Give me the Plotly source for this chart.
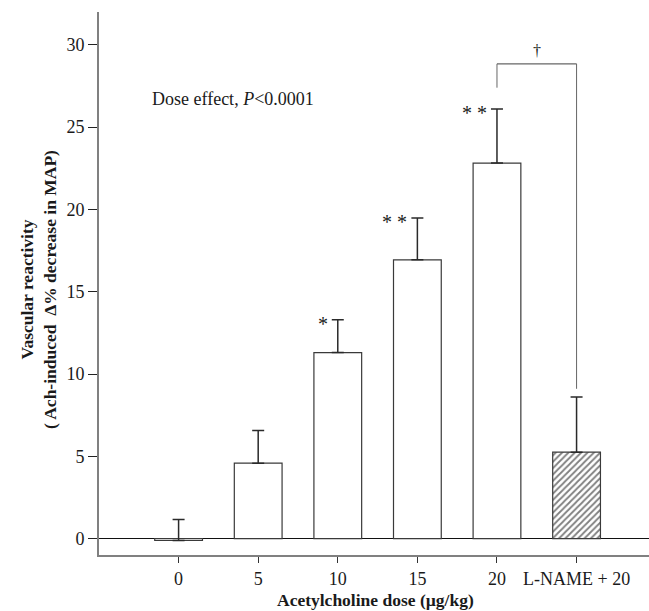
import plotly.graph_objects as go

# Acetylcholine dose groups and measured responses (mean and SEM)
categories = ["0", "5", "10", "15", "20", "L-NAME + 20"]
means = [-0.12, 4.58, 11.3, 16.94, 22.82, 5.25]
sems = [1.28, 1.99, 1.99, 2.54, 3.28, 3.35]
significance = ["", "", "*", "* *", "* *", ""]
patterns = ["", "", "", "", "", "/"]

SERIF = "Liberation Serif, Times New Roman, serif"
INK = "#1a1a1a"

fig = go.Figure()
fig.add_trace(go.Bar(
    x=categories,
    y=means,
    width=0.6,
    marker=dict(
        color="white",
        line=dict(color="#3a3a3a", width=1.2),
        pattern=dict(shape=patterns, fgcolor="#000000", bgcolor="white",
                     size=4.5, solidity=0.4),
    ),
    error_y=dict(type="data", symmetric=False, array=sems,
                 arrayminus=[0] * len(sems),
                 color="#2a2a2a", thickness=1.5, width=6),
    showlegend=False,
    hoverinfo="skip",
))

annotations = []
# significance stars placed to the left of each error-bar cap
# (category axes take serial numbers for annotation positions)
for idx, (m, s, sig) in enumerate(zip(means, sems, significance)):
    if sig:
        annotations.append(dict(
            x=idx, y=m + s, text=sig, showarrow=False,
            xanchor="right", yanchor="middle", xshift=-8, yshift=-4,
            font=dict(family=SERIF, size=20, color=INK),
        ))

# L-NAME comparison bracket between the 20 µg/kg and L-NAME groups
i20 = categories.index("20")
iln = categories.index("L-NAME + 20")
bracket_y = 28.85
fig.add_shape(type="line", x0=i20, x1=i20, y0=means[i20] + sems[i20] + 1.3,
              y1=bracket_y, line=dict(color="#666666", width=1))
fig.add_shape(type="line", x0=i20, x1=iln, y0=bracket_y, y1=bracket_y,
              line=dict(color="#666666", width=1.2))
fig.add_shape(type="line", x0=iln, x1=iln, y0=bracket_y,
              y1=means[iln] + sems[iln] + 0.5,
              line=dict(color="#666666", width=1))
annotations.append(dict(
    x=(i20 + iln) / 2, y=bracket_y, text="†", showarrow=False,
    yanchor="bottom", yshift=3,
    font=dict(family=SERIF, size=16, color=INK),
))

annotations.append(dict(
    x=-0.36, y=26.7, text="Dose effect, <i>P</i><0.0001", showarrow=False,
    xanchor="left", yanchor="middle",
    font=dict(family=SERIF, size=18, color=INK),
))

# axis titles
annotations.append(dict(
    xref="paper", yref="paper", x=0, y=0.488, xshift=-61,
    text="<b>Vascular reactivity</b><br><b>( Ach-induced  Δ% decrease in MAP)</b>",
    textangle=-90, showarrow=False, xanchor="center", yanchor="middle",
    font=dict(family=SERIF, size=17.5, color=INK),
))
annotations.append(dict(
    xref="paper", yref="paper", x=0.502, y=-0.083,
    text="<b>Acetylcholine dose (µg/kg)</b>",
    showarrow=False, xanchor="center", yanchor="middle",
    font=dict(family=SERIF, size=17.5, color=INK),
))

fig.update_layout(
    width=649, height=611,
    margin=dict(l=99, r=0, t=12, b=56),
    paper_bgcolor="white", plot_bgcolor="white",
    annotations=annotations,
    bargap=0.4,
    xaxis=dict(
        type="category", range=[-1.0, 5.91],
        showline=True, linecolor="#808080", linewidth=2,
        ticks="outside", ticklen=6, tickcolor="#333333", tickwidth=1,
        tickfont=dict(family=SERIF, size=18, color=INK),
        showgrid=False, zeroline=False,
    ),
    yaxis=dict(
        range=[-1.0, 32.0], tickvals=[0, 5, 10, 15, 20, 25, 30],
        showline=True, linecolor="#808080", linewidth=2,
        ticks="outside", ticklen=9, tickcolor="#222222", tickwidth=1,
        tickfont=dict(family=SERIF, size=18, color=INK),
        showgrid=False,
        zeroline=True, zerolinecolor="#111111", zerolinewidth=1,
    ),
)

fig.write_html("out.html")
